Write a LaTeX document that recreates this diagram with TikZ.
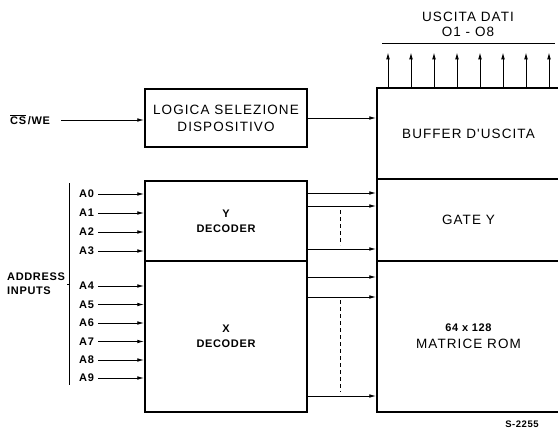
\documentclass[tikz,border=0pt]{standalone}
\usepackage{fontspec}
\newfontfamily\blkfont[LetterSpace=8]{Liberation Sans}
\newfontfamily\lblfont[LetterSpace=6]{Liberation Sans Bold}
\usetikzlibrary{arrows.meta}

\begin{document}
\begin{tikzpicture}[
  x=1pt, y=-1pt,
  blk/.style={draw, line width=1.5pt, inner sep=0pt, align=center, font=\blkfont\fontsize{13.5}{17}\selectfont},
  dec/.style={blk, font=\lblfont\fontsize{11}{15}\selectfont},
  lbl/.style={inner sep=1pt, align=left, font=\lblfont\fontsize{11}{14}\selectfont},
  txt/.style={inner sep=1pt, align=center, font=\blkfont\fontsize{13.5}{15}\selectfont},
  arr/.style={-{Latex[length=7pt,width=3.6pt]}, line width=0.9pt},
  dsh/.style={dash pattern=on 4pt off 3pt, line width=0.9pt}
]
\clip (0,0) rectangle (558,431);

% left column
\node[blk, minimum width=162pt, minimum height=58pt] (logic) at (226,118) {LOGICA SELEZIONE\\DISPOSITIVO};
\node[dec, minimum width=162pt, minimum height=80pt] (ydec) at (226,221) {Y\\DECODER};
\node[dec, minimum width=162pt, minimum height=151pt] (xdec) at (226,336.5) {X\\DECODER};

% right column
\node[blk, minimum width=183pt, minimum height=91pt] (buf) at (468.5,133.5) {BUFFER D'USCITA};
\node[blk, minimum width=183pt, minimum height=82pt] (gate) at (468.5,220) {GATE Y};
\node[blk, minimum width=183pt, minimum height=151pt] (rom) at (468.5,336.5) {{\lblfont\fontsize{11}{15}\selectfont 64 x 128}\\MATRICE ROM};

% chip select
\node[lbl, anchor=west] (cswe) at (9,120) {$\overline{\mbox{CS}}$\,/WE};
\draw[arr] ([xshift=10pt]cswe.east) -- (cswe.east -| logic.west);

% address inputs
\node[lbl, anchor=west] (addr) at (6,284) {ADDRESS\\INPUTS};
\coordinate (brt) at (69,183);
\coordinate (brb) at (69,385);
\draw[line width=1pt] (brt) -- (brb);
\draw[line width=0.8pt] (brt |- addr) -- ++(-2.5,0);
\foreach \n/\y in {0/194,1/213,2/232,3/251} {
  \node[lbl, anchor=west] (a\n) at (78,\y) {A\n};
  \draw[arr] ([xshift=3pt]a\n.east) -- (a\n.east -| ydec.west);
}
\foreach \n/\y in {4/286,5/304.5,6/323,7/341.5,8/360,9/378} {
  \node[lbl, anchor=west] (a\n) at (78,\y) {A\n};
  \draw[arr] ([xshift=3pt]a\n.east) -- (a\n.east -| xdec.west);
}

% between the columns
\draw[arr] (logic.east) -- (logic.east -| buf.west);
\foreach \y in {193,206,249} {
  \coordinate (r) at (0,\y);
  \draw[arr] (ydec.east |- r) -- (gate.west |- r);
}
\foreach \y in {277,297,396} {
  \coordinate (r) at (0,\y);
  \draw[arr] (xdec.east |- r) -- (rom.west |- r);
}
\coordinate (d1) at (340,210);
\coordinate (d2) at (340,245);
\coordinate (d3) at (340,300);
\coordinate (d4) at (340,392);
\draw[dsh] (d1) -- (d2);
\draw[dsh] (d3) -- (d4);

% outputs
\node[txt] (out) at (468,24.5) {USCITA DATI\\O1 - O8};
\coordinate (bl) at (382,43);
\coordinate (br) at (555,43);
\draw[line width=0.8pt] (bl) -- (br);
\foreach \k in {0,...,7} {
  \coordinate (o) at ({388+23*\k},0);
  \draw[arr] (buf.north -| o) -- ++(0,-35);
}

\node[lbl, font=\lblfont\fontsize{9.5}{11}\selectfont] (code) at (522,424) {S-2255};
\end{tikzpicture}
\end{document}
